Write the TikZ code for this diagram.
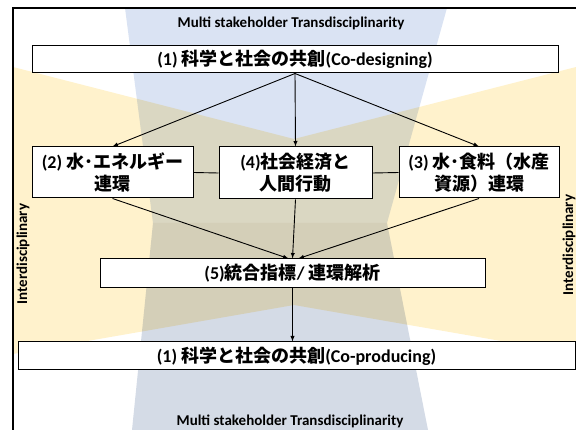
\documentclass[tikz,border=0pt]{standalone}
\usepackage{fontspec}
\setmainfont{Carlito}
\newfontfamily\jpfont{Noto Sans CJK JP}
\newcommand{\ja}[1]{{\jpfont #1}}
\definecolor{tdblue}{RGB}{218,227,243}
\definecolor{tdgrey}{RGB}{212,219,230}
\definecolor{idyellow}{RGB}{255,242,204}
\tikzset{
  block/.style={draw=black,line width=1pt,fill=white,inner sep=0pt,align=center,
    font=\bfseries\fontsize{18}{22}\selectfont},
  bandlabel/.style={inner sep=0pt,font=\bfseries\fontsize{15}{18}\selectfont}
}
\begin{document}
\begin{tikzpicture}[x=1pt,y=-1pt,>=latex]
  \useasboundingbox (0,0) rectangle (576,430);
  \clip (0,0) rectangle (576,430);

  % Transdisciplinary band
  \fill[tdblue] (125,8) -- (447,8) -- (387,223) -- (153,223) -- cycle;
  \fill[tdgrey] (153,223) -- (387,223) -- (428,430) -- (132,430) -- cycle;

  % Interdisciplinary band
  \fill[idyellow,blend mode=multiply] (13,67) -- (294,139) -- (576,67)
    -- (576,354) -- (294,305) -- (13,354) -- cycle;

  % Frame
  \draw[line width=1.5pt] (13,440) -- (13,8) -- (590,8);

  % Band labels
  \node[bandlabel] (tdtop) at (291,23) {Multi stakeholder Transdisciplinarity};
  \node[bandlabel] (tdbot) at (290,421) {Multi stakeholder Transdisciplinarity};
  \node[bandlabel,rotate=90] (idleft) at (23,254) {Interdisciplinary};
  \node[bandlabel,rotate=90] (idright) at (569,245) {Interdisciplinary};

  % Co-designing
  \node[block,minimum width=526pt,minimum height=27pt] (codesign) at (295,59.5)
    {(1) \ja{科学と社会の共創}(Co-designing)};

  % Nexus boxes
  \node[block,minimum width=161pt,minimum height=51pt] (wenergy) at (112.5,172.5)
    {(2) \ja{水･エネルギー}\\\ja{連環}};
  \node[block,minimum width=153pt,minimum height=52pt] (socio) at (295.5,173)
    {(4)\ja{社会経済と}\\\ja{人間行動}};
  \node[block,minimum width=160pt,minimum height=51pt] (wfood) at (479,172.5)
    {(3) \ja{水･食料（水産}\\\ja{資源）連環}};

  % Integrated index
  \node[block,minimum width=385pt,minimum height=29pt] (index) at (292.5,273.5)
    {(5)\ja{統合指標}/ \ja{連環解析}};

  % Co-producing
  \node[block,minimum width=557pt,minimum height=28pt] (coproduce) at (296.5,356)
    {(1) \ja{科学と社会の共創}(Co-producing)};

  % Arrows
  \draw[->,line width=0.9pt] (codesign.south) -- (wenergy.north);
  \draw[->,line width=0.9pt] (codesign.south) -- (socio.north);
  \draw[->,line width=0.9pt] (codesign.south) -- (wfood.north);
  \draw[line width=0.9pt] (wenergy.east) -- (socio.west);
  \draw[line width=0.9pt] (socio.east) -- (wfood.west);
  \draw[->,line width=0.9pt] (wenergy.south) -- ([xshift=-4pt]index.north);
  \draw[->,line width=0.9pt] (socio.south) -- (index.north);
  \draw[->,line width=0.9pt] (wfood.south) -- ([xshift=6pt]index.north);
  \draw[->,line width=0.9pt] (index.south) -- (index.south |- coproduce.north);
\end{tikzpicture}
\end{document}
